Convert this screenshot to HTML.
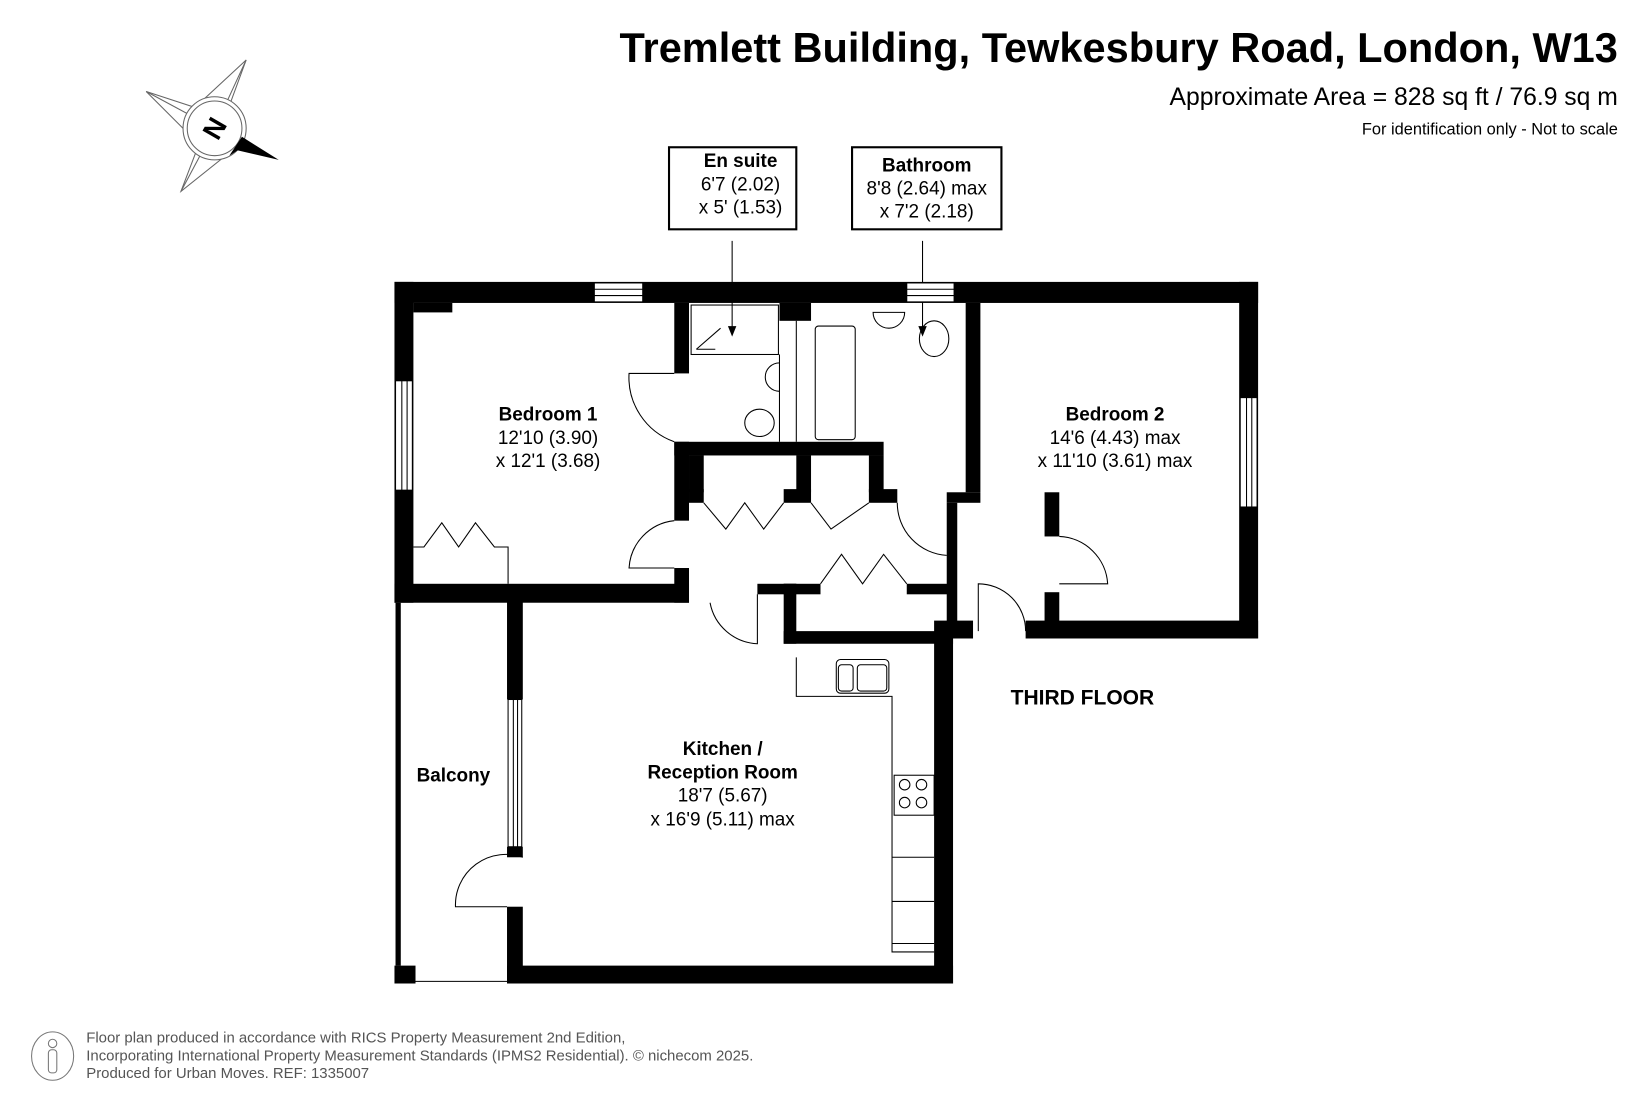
<!DOCTYPE html>
<html><head><meta charset="utf-8"><style>
html,body{margin:0;padding:0;background:#fff;}
svg{display:block;}
text{font-family:"Liberation Sans",Arial,sans-serif;}
</style></head><body>
<svg width="1641" height="1095" viewBox="0 0 1560 1041" preserveAspectRatio="none" xmlns="http://www.w3.org/2000/svg">
<rect width="1560" height="1041" fill="#fff"/>
<!-- header -->
<text x="1538" y="59" text-anchor="end" font-size="39.5" font-weight="bold">Tremlett Building, Tewkesbury Road, London, W13</text>
<text x="1538" y="100" text-anchor="end" font-size="23.5">Approximate Area = 828 sq ft / 76.9 sq m</text>
<text x="1538" y="128" text-anchor="end" font-size="15.6">For identification only - Not to scale</text>

<!-- compass -->
<g stroke="#666" stroke-width="1" fill="none">
<polygon points="234,57 216,106 192,96"/>
<polygon points="139,87 188,103 180,128"/>
<polygon points="172,182 188,140 212,150"/>
<line x1="234" y1="57" x2="204" y2="122"/><line x1="139" y1="87" x2="204" y2="122"/><line x1="172" y1="182" x2="204" y2="122"/>
<circle cx="204" cy="122" r="30" fill="#fff"/><circle cx="204" cy="122" r="26"/>
</g>
<polygon points="265,152 226,143 218,148 230,130" fill="#000"/>
<text x="204" y="131" text-anchor="middle" font-size="26" font-weight="bold" transform="rotate(-60 204 122)">N</text>

<!-- labels boxes -->
<rect x="636" y="140" width="121" height="78" fill="none" stroke="#000" stroke-width="2"/>
<text x="704" y="159" text-anchor="middle" font-size="18" font-weight="bold">En suite</text>
<text x="704" y="181" text-anchor="middle" font-size="18">6'7 (2.02)</text>
<text x="704" y="203" text-anchor="middle" font-size="18">x 5' (1.53)</text>
<rect x="810" y="140" width="142" height="78" fill="none" stroke="#000" stroke-width="2"/>
<text x="881" y="163" text-anchor="middle" font-size="18" font-weight="bold">Bathroom</text>
<text x="881" y="185" text-anchor="middle" font-size="18">8'8 (2.64) max</text>
<text x="881" y="207" text-anchor="middle" font-size="18">x 7'2 (2.18)</text>
<line x1="696" y1="229" x2="696" y2="312" stroke="#000" stroke-width="1"/>
<polygon points="692,310 700,310 696,320" fill="#000"/>
<line x1="877" y1="229" x2="877" y2="312" stroke="#000" stroke-width="1"/>
<polygon points="873,310 881,310 877,320" fill="#000"/>

<!-- walls -->
<g fill="#000">
<rect x="375" y="268" width="821" height="20"/>
<rect x="375" y="268" width="18" height="305"/>
<rect x="393" y="288" width="37" height="9"/>
<rect x="1178" y="268" width="18" height="339"/>
<rect x="975" y="590" width="221" height="17"/>
<rect x="918" y="288" width="14" height="180"/>
<rect x="900" y="468" width="32" height="10"/>
<rect x="993" y="468" width="14" height="42"/>
<rect x="993" y="563" width="14" height="30"/>
<rect x="900" y="478" width="10" height="129"/>
<rect x="888" y="590" width="37" height="17"/>
<rect x="641" y="288" width="14" height="67"/>
<rect x="641" y="420" width="14" height="75"/>
<rect x="641" y="540" width="14" height="33"/>
<rect x="741" y="288" width="30" height="17"/>
<rect x="641" y="420" width="199" height="13"/>
<rect x="655" y="433" width="14" height="35"/>
<rect x="757" y="433" width="14" height="35"/>
<rect x="826" y="433" width="14" height="35"/>
<rect x="655" y="465" width="14" height="13"/>
<rect x="745" y="465" width="26" height="13"/>
<rect x="826" y="465" width="27" height="13"/>
<rect x="375" y="555" width="280" height="18"/>
<rect x="482" y="565" width="15" height="100"/>
<rect x="482" y="805" width="15" height="10"/>
<rect x="482" y="862" width="15" height="73"/>
<rect x="482" y="918" width="424" height="17"/>
<rect x="888" y="607" width="18" height="328"/>
<rect x="720" y="555" width="37" height="10"/>
<rect x="745" y="555" width="12" height="57"/>
<rect x="745" y="600" width="161" height="12"/>
<rect x="745" y="555" width="35" height="10"/>
<rect x="862" y="555" width="44" height="10"/>
<rect x="375" y="918" width="20" height="17"/>
<rect x="376" y="573" width="5" height="345"/>
</g>
<!-- windows -->
<g fill="#fff" stroke="#000" stroke-width="1">
<rect x="565" y="269" width="46" height="18"/><line x1="565" y1="275" x2="611" y2="275"/><line x1="565" y1="281" x2="611" y2="281"/>
<rect x="862" y="269" width="45" height="18"/><line x1="862" y1="275" x2="907" y2="275"/><line x1="862" y1="281" x2="907" y2="281"/>
<rect x="376" y="362" width="16" height="104"/><line x1="382" y1="362" x2="382" y2="466"/><line x1="387" y1="362" x2="387" y2="466"/>
<rect x="1179" y="378" width="16" height="104"/><line x1="1185" y1="378" x2="1185" y2="482"/><line x1="1190" y1="378" x2="1190" y2="482"/>
<rect x="483" y="665" width="13" height="140"/><line x1="488" y1="665" x2="488" y2="805"/><line x1="492" y1="665" x2="492" y2="805"/>
</g>
<!-- doors & fittings -->
<g fill="none" stroke="#000" stroke-width="1">
<path d="M641,420 A65,65 0 0 1 598,355 L641,355"/>
<path d="M641,495 A48,48 0 0 0 598,540 L641,540"/>
<path d="M675,573 A48,48 0 0 0 720,612 L720,565"/>
<path d="M853,478 A50,50 0 0 0 900,528"/>
<path d="M1007,510 A48,48 0 0 1 1053,555 L1007,555"/>
<path d="M975,600 A45,45 0 0 0 930,555 L930,600"/>
<path d="M497,815 A48,48 0 0 0 433,862 L482,862"/>
<path d="M669,478 L690,503 L708,478 L726,503 L745,478"/>
<path d="M771,478 L790,503 L826,478"/>
<path d="M780,555 L800,527 L820,555 L840,527 L862,555"/>
<path d="M393,520 L403,520 L420,497 L436,520 L452,497 L470,520 L483,520 L483,555"/>
<rect x="657" y="290" width="83" height="47"/>
<line x1="662" y1="332" x2="685" y2="312"/><line x1="662" y1="332" x2="680" y2="332"/>
<line x1="741" y1="337" x2="741" y2="420"/><line x1="757" y1="305" x2="757" y2="420"/>
<path d="M741,345 A13,13 0 0 0 741,372"/>
<ellipse cx="722" cy="402" rx="14" ry="13"/>
<rect x="775" y="310" width="38" height="108" rx="3"/>
<path d="M830,297 A15,15 0 0 0 860,297 Z"/>
<ellipse cx="888" cy="322" rx="14" ry="17"/>
<polyline points="757,625 757,662 848,662 848,905 888,905"/>
<rect x="795" y="627" width="50" height="32" rx="4"/>
<rect x="797" y="632" width="14" height="25" rx="3"/>
<rect x="815" y="632" width="28" height="25" rx="3"/>
<rect x="850" y="737" width="38" height="38"/>
<circle cx="860" cy="746" r="5"/><circle cx="876" cy="746" r="5"/><circle cx="860" cy="763" r="5"/><circle cx="876" cy="763" r="5"/>
<line x1="848" y1="815" x2="888" y2="815"/><line x1="848" y1="857" x2="888" y2="857"/><line x1="848" y1="897" x2="888" y2="897"/>
<line x1="395" y1="933" x2="482" y2="933"/>
</g>

<!-- room labels -->
<g text-anchor="middle" font-size="18">
<text x="521" y="400" font-weight="bold">Bedroom 1</text>
<text x="521" y="422">12'10 (3.90)</text>
<text x="521" y="444">x 12'1 (3.68)</text>
<text x="1060" y="400" font-weight="bold">Bedroom 2</text>
<text x="1060" y="422">14'6 (4.43) max</text>
<text x="1060" y="444">x 11'10 (3.61) max</text>
<text x="687" y="718" font-weight="bold">Kitchen /</text>
<text x="687" y="740" font-weight="bold">Reception Room</text>
<text x="687" y="762">18'7 (5.67)</text>
<text x="687" y="785">x 16'9 (5.11) max</text>
<text x="431" y="743" font-weight="bold">Balcony</text>
<text x="1029" y="670" font-weight="bold" font-size="20">THIRD FLOOR</text>
</g>

<!-- footer -->
<ellipse cx="50" cy="1004" rx="20" ry="23" fill="none" stroke="#777" stroke-width="1"/>
<circle cx="50" cy="992" r="4" fill="none" stroke="#777"/>
<rect x="46" y="998" width="8" height="22" rx="3" fill="none" stroke="#777"/>
<g font-size="14.2" fill="#555" xml:space="preserve">
<text x="82" y="991">Floor plan produced in accordance with RICS Property Measurement 2nd Edition,</text>
<text x="82" y="1008">Incorporating International Property Measurement Standards (IPMS2 Residential).   © nichecom 2025.</text>
<text x="82" y="1025">Produced for Urban Moves.   REF: 1335007</text>
</g>
</svg>
</body></html>
